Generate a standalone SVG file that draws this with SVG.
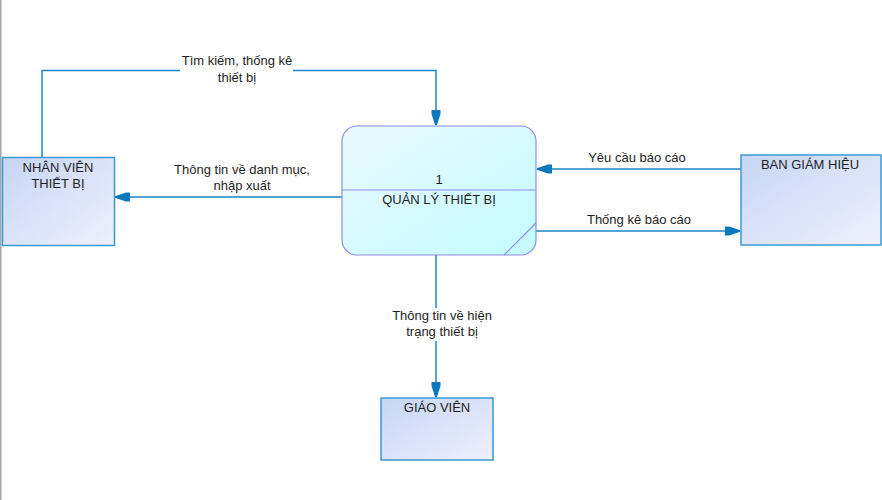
<svg xmlns="http://www.w3.org/2000/svg" width="882" height="500" viewBox="0 0 882 500">
<style>
text{font-family:"Liberation Sans",Arial,sans-serif;font-size:13px;fill:#1e1e1e;text-anchor:middle}
.ent{fill:url(#gEnt);stroke:#3a9ad2;stroke-width:1.5}
.proc{fill:url(#gProc);stroke:#8c8cef;stroke-width:1.2}
.flow{fill:none;stroke:#1a86c6;stroke-width:1.5}
</style>
<defs>
<linearGradient id="gEnt" x1="0" y1="0" x2="1" y2="1">
<stop offset="0" stop-color="#c6d6f5"/>
<stop offset="1" stop-color="#eff0fc"/>
</linearGradient>
<linearGradient id="gProc" x1="0" y1="0" x2="1" y2="1">
<stop offset="0" stop-color="#eafaff"/>
<stop offset="1" stop-color="#c3fbff"/>
</linearGradient>
<marker id="arr" viewBox="-16 -5 17 10" refX="0" refY="0" markerWidth="17" markerHeight="10" markerUnits="userSpaceOnUse" orient="auto">
<path d="M-15,-4.5 L-11,-4.5 L-2,-1.6 L0,-1 L0,1 L-2,1.6 L-11,4.5 L-15,4.5 Z" fill="#0b78bd"/>
</marker>
</defs>
<rect x="0" y="0" width="882" height="500" fill="#ffffff"/>
<rect x="0" y="0" width="1.5" height="500" fill="#a8a8a8"/>

<g id="connectors">
<path class="flow" d="M42,157 V70.5 H436 V125" marker-end="url(#arr)"/>
<path class="flow" d="M342,197 H115" marker-end="url(#arr)"/>
<path class="flow" d="M741,169 H537" marker-end="url(#arr)"/>
<path class="flow" d="M536,231 H740" marker-end="url(#arr)"/>
<path class="flow" d="M436,255 V397" marker-end="url(#arr)"/>
<rect x="180" y="55" width="113" height="32" fill="#ffffff"/>
<rect x="380" y="308" width="124" height="33" fill="#ffffff"/>
<text x="237" y="65">Tìm kiếm, thống kê</text>
<text x="237" y="81.5">thiết bị</text>
<text x="242" y="174">Thông tin về danh mục,</text>
<text x="242" y="190">nhập xuất</text>
<text x="637" y="162">Yêu cầu báo cáo</text>
<text x="639" y="224">Thống kê báo cáo</text>
<text x="442" y="320">Thông tin về hiện</text>
<text x="442" y="335.5">trạng thiết bị</text>
</g>

<g id="process1">
<rect class="proc" x="342" y="126" width="194" height="129" rx="15" ry="15"/>
<line x1="342" y1="190" x2="536" y2="190" stroke="#8c8cef" stroke-width="1.2"/>
<line x1="504" y1="255" x2="536" y2="223" stroke="#8c8cef" stroke-width="1.2"/>
<text x="439" y="184">1</text>
<text x="439" y="204">QUẢN LÝ THIẾT BỊ</text>
</g>

<g id="nhanvien">
<rect class="ent" x="2.5" y="157.5" width="112" height="88"/>
<text x="58" y="172">NHÂN VIÊN</text>
<text x="58" y="188">THIẾT BỊ</text>
</g>

<g id="bangiamhieu">
<rect class="ent" x="741" y="155" width="140" height="90"/>
<text x="810" y="169">BAN GIÁM HIỆU</text>
</g>

<g id="giaovien">
<rect class="ent" x="381" y="398" width="112" height="62"/>
<text x="437" y="412">GIÁO VIÊN</text>
</g>
</svg>
